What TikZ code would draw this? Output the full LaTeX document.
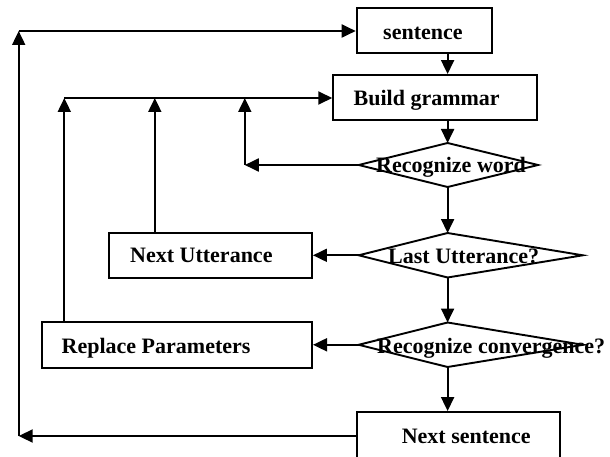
\documentclass[tikz,border=0pt]{standalone}
\usepackage{fontspec}
\setmainfont{Liberation Serif}
\usetikzlibrary{arrows.meta}
\tikzset{
  ln/.style={line width=1.9pt, draw=black},
  arr/.style={ln, -{Triangle[length=14pt,width=13pt]}},
  boxn/.style={ln, rectangle, inner sep=0pt},
  lbl/.style={anchor=base west, inner sep=0pt, font=\bfseries\fontsize{22}{26}\selectfont},
}
\begin{document}
\begin{tikzpicture}[x=1pt,y=-1pt]
\useasboundingbox (0,0) rectangle (610,457);
\clip (0,0) rectangle (610,457);
% boxes
\node[boxn, minimum width=135.7pt, minimum height=45pt] (sentence) at (424.5,30.5) {};
\node[boxn, minimum width=204pt, minimum height=45pt] (build) at (435.2,97.5) {};
\node[boxn, minimum width=203pt, minimum height=45pt] (nextutt) at (210.5,255.5) {};
\node[boxn, minimum width=270.3pt, minimum height=46pt] (replace) at (176.9,345) {};
\node[boxn, minimum width=203.3pt, minimum height=48pt] (nextsent) at (458.3,436) {};
% diamonds (asymmetric)
\coordinate (rwT) at (447.6,143);
\coordinate (rwB) at (447.6,187);
\coordinate (rwL) at (358.7,165);
\coordinate (rwR) at (538,165);
\draw[ln, line join=miter] (rwL) -- (rwT) -- (rwR) -- (rwB) -- cycle;
\coordinate (luT) at (447.6,233);
\coordinate (luB) at (447.6,277.5);
\coordinate (luL) at (358.7,255.3);
\coordinate (luR) at (582.8,255.3);
\draw[ln, line join=miter] (luL) -- (luT) -- (luR) -- (luB) -- cycle;
\coordinate (rcT) at (447.6,322.5);
\coordinate (rcB) at (447.6,367);
\coordinate (rcL) at (358.7,344.8);
\coordinate (rcR) at (583,344.8);
\draw[ln, line join=miter] (rcL) -- (rcT) -- (rcR) -- (rcB) -- cycle;
% labels
\node[lbl] (tsentence) at (383,40) {sentence};
\node[lbl] (tbuild) at (353.5,105.7) {Build grammar};
\node[lbl] (trw) at (376,173) {Recognize word};
\node[lbl] (tnextutt) at (130,262.7) {Next Utterance};
\node[lbl] (tlu) at (388,263) {Last Utterance?};
\node[lbl] (treplace) at (61.5,353) {Replace Parameters};
\node[lbl] (trc) at (377,353) {Recognize convergence?};
\node[lbl] (tnextsent) at (401.6,443) {Next sentence};
% helper coordinates
\coordinate (mx) at (447.6,0);
\coordinate (c1) at (244.8,165);
\coordinate (c1top) at (244.8,98);
\coordinate (c2top) at (154.8,98);
\coordinate (c3top) at (64.3,98);
\coordinate (obot) at (18.7,436);
\coordinate (otop) at (18.7,31);
% main flow
\draw[arr] (sentence.south -| mx) -- (build.north -| mx);
\draw[arr] (build.south -| mx) -- (rwT);
\draw[arr] (rwB) -- (luT);
\draw[arr] (luB) -- (rcT);
\draw[arr] (rcB) -- (nextsent.north -| mx);
% left branches
\draw[arr] (rwL) -- (c1);
\draw[arr] (c1) -- (c1top);
\draw[arr] (luL) -- (nextutt.east |- luL);
\draw[arr] (rcL) -- (replace.east |- rcL);
\draw[arr] (nextutt.north -| c2top) -- (c2top);
\draw[arr] (replace.north -| c3top) -- (c3top);
\draw[arr] (c3top) -- (build.west |- c3top);
% outer loop
\draw[arr] (nextsent.west) -- (obot);
\draw[arr] (obot) -- (otop);
\draw[arr] (otop) -- (sentence.west |- otop);
\end{tikzpicture}
\end{document}
